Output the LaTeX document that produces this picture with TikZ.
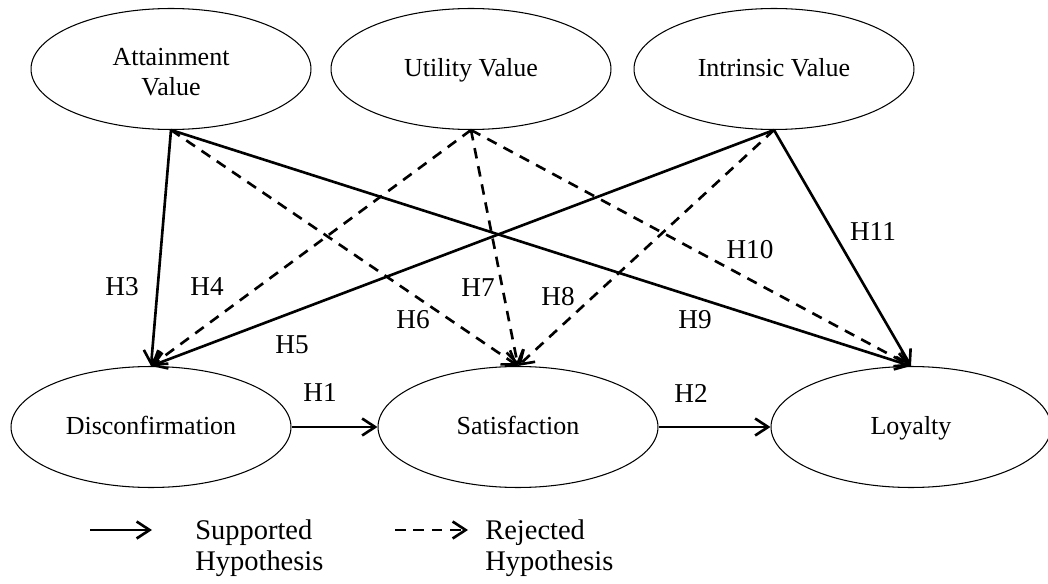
\documentclass[tikz,border=0pt]{standalone}
\usepackage{fontspec}
\setmainfont{Liberation Serif}
\usepackage{tikz}
\usetikzlibrary{arrows.meta,positioning,shapes.geometric}

\begin{document}
\begin{tikzpicture}[
  x=0.02cm, y=-0.02cm,
  construct/.style={draw, ellipse, line width=0.6pt, minimum width=5.6cm, minimum height=2.42cm, inner sep=0pt, align=center, font=\fontsize{14.8}{17}\selectfont},
  oneline/.style={text height=2.3ex, text depth=0.45ex},
  hyplabel/.style={inner sep=1pt, font=\fontsize{15.5}{17}\selectfont},
  legendtext/.style={align=left, anchor=west, inner sep=0pt, font=\fontsize{16.2}{17.5}\selectfont},
  supported/.style={-{Straight Barb[length=2.6mm,width=3.4mm]}, line width=1.5pt},
  rejected/.style={-{Straight Barb[length=2.6mm,width=3.4mm]}, line width=1.5pt, dash pattern=on 6pt off 4.5pt}
]
\useasboundingbox (0,0) rectangle (1048,584);
\node[construct] (ATT) at (171,69) {\\[-0.5ex]Attainment\\Value};
\node[construct, oneline] (UTI) at (471,69) {Utility Value};
\node[construct, oneline] (INT) at (774,69) {Intrinsic Value};
\node[construct, oneline] (DIS) at (151,427) {Disconfirmation};
\node[construct, oneline] (SAT) at (518,427) {Satisfaction};
\node[construct, oneline] (LOY) at (911,427) {Loyalty};

\draw[supported] (DIS)--(SAT);
\draw[supported] (SAT)--(LOY);
\draw[supported] (ATT.south)--(DIS.north);
\draw[rejected] (ATT.south)--(SAT.north);
\draw[supported] (ATT.south)--(LOY.north);
\draw[rejected] (UTI.south)--(DIS.north);
\draw[rejected] (UTI.south)--(SAT.north);
\draw[rejected] (UTI.south)--(LOY.north);
\draw[supported] (INT.south)--(DIS.north);
\draw[rejected] (INT.south)--(SAT.north);
\draw[supported] (INT.south)--(LOY.north);

\node[hyplabel] (H1) at (320,393) {H1};
\node[hyplabel] (H2) at (691,393) {H2};
\node[hyplabel] (H3) at (122,287) {H3};
\node[hyplabel] (H4) at (207,287) {H4};
\node[hyplabel] (H5) at (292,345) {H5};
\node[hyplabel] (H6) at (413,320) {H6};
\node[hyplabel] (H7) at (478,288) {H7};
\node[hyplabel] (H8) at (558,297) {H8};
\node[hyplabel] (H9) at (695,320) {H9};
\node[hyplabel] (H10) at (750,250) {H10};
\node[hyplabel] (H11) at (873,232) {H11};

% legend
\coordinate (supA) at (90,530);
\coordinate (supB) at (152,530);
\coordinate (rejA) at (395,530);
\coordinate (rejB) at (468,530);
\draw[supported] (supA)--(supB);
\draw[rejected] (rejA)--(rejB);
\node[legendtext] (SUPT) at (195,548) {Supported\\Hypothesis};
\node[legendtext] (REJT) at (485,548) {Rejected\\Hypothesis};
\end{tikzpicture}
\end{document}
